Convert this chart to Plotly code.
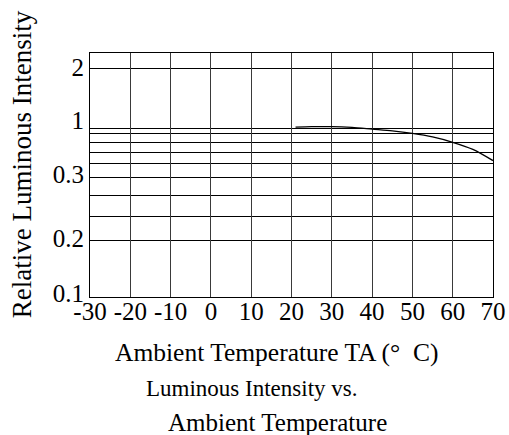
import plotly.graph_objects as go

# ---- data ----
temperature_c = [21, 25, 30, 35, 40, 45, 50, 55, 60, 65, 70]
# vertical position of the curve in chart grid units (0 = bottom "0.1", 100 = top edge)
relative_intensity_pos = [69.6, 69.8, 69.85, 69.5, 68.8, 68.1, 67.05, 65.6, 63.4, 60.5, 55.9]

x_ticks = [-30, -20, -10, 0, 10, 20, 30, 40, 50, 60, 70]
y_label_pos = [1.5, 23.9, 50.2, 72.3, 94.2]
y_label_text = ["0.1", "0.2", "0.3", "1", "2"]
y_grid_pos = [93.55, 69.0, 66.97, 63.43, 59.33, 54.64, 49.18, 41.5, 33.03, 23.17]

FONT = "Liberation Serif"

fig = go.Figure()
fig.add_trace(go.Scatter(
    x=temperature_c, y=relative_intensity_pos, mode="lines",
    line=dict(color="black", width=1.3, shape="spline", smoothing=0.8),
    showlegend=False, hoverinfo="skip",
))

fig.update_layout(
    width=509, height=435,
    margin=dict(l=90, r=16, t=53, b=138, autoexpand=False),
    paper_bgcolor="white", plot_bgcolor="white",
    font=dict(family=FONT, color="black"),
)
fig.update_xaxes(
    range=[-30, 70], tickmode="array", tickvals=x_ticks,
    ticktext=[str(v) for v in x_ticks],
    showgrid=True, gridcolor="#3a3a3a", gridwidth=1,
    showline=True, mirror=True, linecolor="black", linewidth=1,
    ticks="", zeroline=False, automargin=False,
    ticklabelstandoff=-8,
    tickfont=dict(family=FONT, size=25, color="black"),
)
fig.update_yaxes(
    range=[0, 100], tickmode="array", tickvals=y_label_pos, ticktext=y_label_text,
    showgrid=False, zeroline=False, automargin=False,
    minor=dict(tickmode="array", tickvals=y_grid_pos, showgrid=True,
               gridcolor="black", gridwidth=1, ticks=""),
    showline=True, mirror=True, linecolor="black", linewidth=1,
    ticks="",
    tickfont=dict(family=FONT, size=25, color="black"),
)

# titles / caption
fig.add_annotation(text="Relative Luminous Intensity", textangle=-90,
                   xref="paper", yref="paper", x=-0.170, y=0.546,
                   xanchor="center", yanchor="middle", showarrow=False,
                   font=dict(family=FONT, size=27, color="black"))
fig.add_annotation(text="Ambient Temperature TA (°\u2002C)",
                   xref="paper", yref="paper", x=0.057, y=-0.228,
                   xanchor="left", yanchor="middle", showarrow=False,
                   font=dict(family=FONT, size=25.5, color="black"))
fig.add_annotation(text="Luminous Intensity vs.",
                   xref="paper", yref="paper", x=0.133, y=-0.376,
                   xanchor="left", yanchor="middle", showarrow=False,
                   font=dict(family=FONT, size=23, color="black"))
fig.add_annotation(text="Ambient Temperature",
                   xref="paper", yref="paper", x=0.189, y=-0.516,
                   xanchor="left", yanchor="middle", showarrow=False,
                   font=dict(family=FONT, size=25, color="black"))

fig.write_html("out.html",
               config={"displayModeBar": False},
               post_script="document.body.style.margin='0';document.body.style.overflow='hidden';")
